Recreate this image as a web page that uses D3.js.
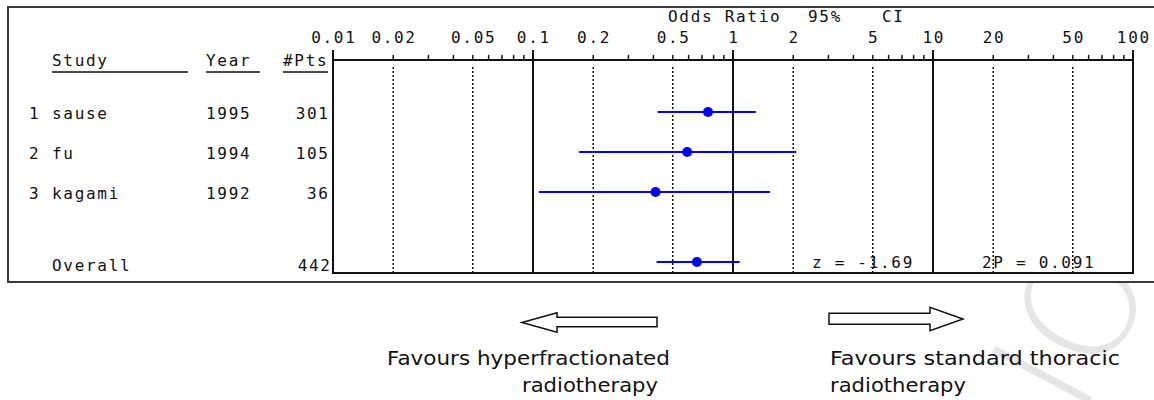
<!DOCTYPE html>
<html lang="en">
<head>
    <meta charset="UTF-8">
    <title>Odds Ratio Forest Plot</title>
    <script src="https://d3js.org/d3.v7.min.js"></script>
    <style>
        body {
            margin: 0;
            background: #ffffff;
        }
        .mono {
            font-family: "DejaVu Sans Mono", monospace;
            font-size: 16px;
            letter-spacing: 1.7px;
            fill: #111;
        }
        .note {
            font-family: "DejaVu Sans", sans-serif;
            font-size: 19px;
            fill: #111;
        }
    </style>
</head>
<body>
    <svg width="1154" height="400"></svg>
    <script>
        // study rows
        const studyNames = ["sause", "fu", "kagami"];
        const studyYears = ["1995", "1994", "1992"];
        const studyPts = [301, 105, 36];
        const studyOR = [0.75, 0.59, 0.41];
        const studyLow = [0.42, 0.17, 0.107];
        const studyHigh = [1.30, 2.07, 1.53];

        // pooled result
        const overallPts = 442;
        const overallOR = 0.66;
        const overallLow = 0.415;
        const overallHigh = 1.08;
        const zLabel = "z = -1.69";
        const pLabel = "2P = 0.091";

        // axis
        const tickLabels = ["0.01", "0.02", "0.05", "0.1", "0.2", "0.5", "1", "2", "5", "10", "20", "50", "100"];
        const tickValues = tickLabels.map(Number);

        const LS = 1.7;
        let svg = d3.select("svg");

        let x = d3.scaleLog().domain([0.01, 100]).range([333, 1133]);
        let y = d3.scaleLinear().domain([0, 1]).range([112, 152]);
        const overallRow = 3.75;

        // watermark, sits behind the chart panel
        svg.append("text")
            .attr("transform", "translate(1080,420) rotate(-62)")
            .attr("font-family", "DejaVu Sans")
            .attr("font-weight", 200)
            .attr("font-size", 150)
            .attr("fill", "#e6e6e6")
            .text("ION");

        // outer frame
        svg.append("rect")
            .attr("x", 8).attr("y", 7)
            .attr("width", 1165).attr("height", 275)
            .attr("fill", "#fff")
            .attr("stroke", "#3a3a3a")
            .attr("stroke-width", 2);

        // header
        svg.append("text").attr("class", "mono")
            .attr("x", 668).attr("y", 22).text("Odds Ratio");
        svg.append("text").attr("class", "mono")
            .attr("x", 808).attr("y", 22).text("95%");
        svg.append("text").attr("class", "mono")
            .attr("x", 882).attr("y", 22).text("CI");

        let headers = [
            {t: "Study", x0: 52, x1: 188},
            {t: "Year", x0: 206, x1: 260},
            {t: "#Pts", x0: 283, x1: 328}
        ];
        headers.forEach(h => {
            svg.append("text").attr("class", "mono")
                .attr("x", h.x0).attr("y", 66).text(h.t);
            svg.append("line")
                .attr("x1", h.x0).attr("x2", h.x1)
                .attr("y1", 72).attr("y2", 72)
                .attr("stroke", "#111").attr("stroke-width", 1.5);
        });

        // gridlines: solid at inner decades, dotted at the other labelled ticks
        let isDecade = v => Math.abs(Math.log10(v) - Math.round(Math.log10(v))) < 1e-9;
        let decades = tickValues.filter(v => v > 0.01 && v < 100 && isDecade(v));
        let dotted = tickValues.filter(v => v > 0.01 && v < 100 && !isDecade(v));

        svg.append("g").selectAll("line")
            .data(dotted)
            .enter().append("line")
            .attr("x1", d => x(d)).attr("x2", d => x(d))
            .attr("y1", 67).attr("y2", 273)
            .attr("stroke", "#111")
            .attr("stroke-width", 1.5)
            .attr("stroke-dasharray", "2,2");

        svg.append("g").selectAll("line")
            .data(decades)
            .enter().append("line")
            .attr("x1", d => x(d)).attr("x2", d => x(d))
            .attr("y1", 50).attr("y2", 273)
            .attr("stroke", "#111")
            .attr("stroke-width", 2);

        // plot frame: axis on top, sides, bottom
        svg.append("path")
            .attr("d", `M${x(0.01)},50V273H${x(100)}V50`)
            .attr("fill", "none")
            .attr("stroke", "#111")
            .attr("stroke-width", 2);
        svg.append("line")
            .attr("x1", x(0.01)).attr("x2", x(100))
            .attr("y1", 60).attr("y2", 60)
            .attr("stroke", "#111").attr("stroke-width", 2);

        // minor ticks
        let minor = x.ticks().filter(v => v > 0.01 && v < 100 && !isDecade(v));
        svg.append("g").selectAll("line")
            .data(minor)
            .enter().append("line")
            .attr("x1", d => x(d)).attr("x2", d => x(d))
            .attr("y1", 55).attr("y2", 60)
            .attr("stroke", "#111").attr("stroke-width", 1.5);

        svg.append("g").selectAll("text")
            .data(tickValues)
            .enter().append("text")
            .attr("class", "mono")
            .attr("x", d => x(d) + LS / 2)
            .attr("y", 43)
            .attr("text-anchor", "middle")
            .text((d, i) => tickLabels[i]);

        // study rows text
        studyNames.forEach((name, i) => {
            svg.append("text").attr("class", "mono")
                .attr("x", 29).attr("y", y(i) + 7).text(i + 1);
            svg.append("text").attr("class", "mono")
                .attr("x", 52).attr("y", y(i) + 7).text(name);
            svg.append("text").attr("class", "mono")
                .attr("x", 206).attr("y", y(i) + 7).text(studyYears[i]);
            svg.append("text").attr("class", "mono")
                .attr("x", 328 + LS).attr("y", y(i) + 7)
                .attr("text-anchor", "end").text(studyPts[i]);
        });

        svg.append("text").attr("class", "mono")
            .attr("x", 52).attr("y", 271).text("Overall");
        svg.append("text").attr("class", "mono")
            .attr("x", 330 + LS).attr("y", 271)
            .attr("text-anchor", "end").text(overallPts);

        svg.append("text").attr("class", "mono")
            .attr("x", 812).attr("y", 268).text(zLabel);
        svg.append("text").attr("class", "mono")
            .attr("x", 982).attr("y", 268).text(pLabel);

        // CI lines and points
        let rows = studyOR.map((v, i) => ({or: v, lo: studyLow[i], hi: studyHigh[i], row: i}));
        rows.push({or: overallOR, lo: overallLow, hi: overallHigh, row: overallRow});

        let ci = svg.append("g");
        ci.selectAll("line")
            .data(rows)
            .enter().append("line")
            .attr("x1", d => x(d.lo)).attr("x2", d => x(d.hi))
            .attr("y1", d => y(d.row)).attr("y2", d => y(d.row))
            .attr("stroke", "#0000ff")
            .attr("stroke-width", 2);
        ci.selectAll("circle")
            .data(rows)
            .enter().append("circle")
            .attr("cx", d => x(d.or))
            .attr("cy", d => y(d.row))
            .attr("r", 5)
            .attr("fill", "#0000ff");

        // direction arrows
        svg.append("path")
            .attr("d", "M522,322.5L557,312.7V317.3H657V326.7H557V332.3Z")
            .attr("fill", "#fff").attr("stroke", "#111").attr("stroke-width", 1.5);
        svg.append("path")
            .attr("d", "M829,313.3H930V307.3L963,319L930,330.7V324.3H829Z")
            .attr("fill", "#fff").attr("stroke", "#111").attr("stroke-width", 1.5);

        svg.append("text").attr("class", "note")
            .attr("x", 387).attr("y", 365)
            .attr("textLength", 283).attr("lengthAdjust", "spacingAndGlyphs")
            .text("Favours hyperfractionated");
        svg.append("text").attr("class", "note")
            .attr("x", 522).attr("y", 392)
            .attr("textLength", 136).attr("lengthAdjust", "spacingAndGlyphs")
            .text("radiotherapy");
        svg.append("text").attr("class", "note")
            .attr("x", 830).attr("y", 365)
            .attr("textLength", 290).attr("lengthAdjust", "spacingAndGlyphs")
            .text("Favours standard thoracic");
        svg.append("text").attr("class", "note")
            .attr("x", 830).attr("y", 392)
            .attr("textLength", 136).attr("lengthAdjust", "spacingAndGlyphs")
            .text("radiotherapy");
    </script>
</body>
</html>
